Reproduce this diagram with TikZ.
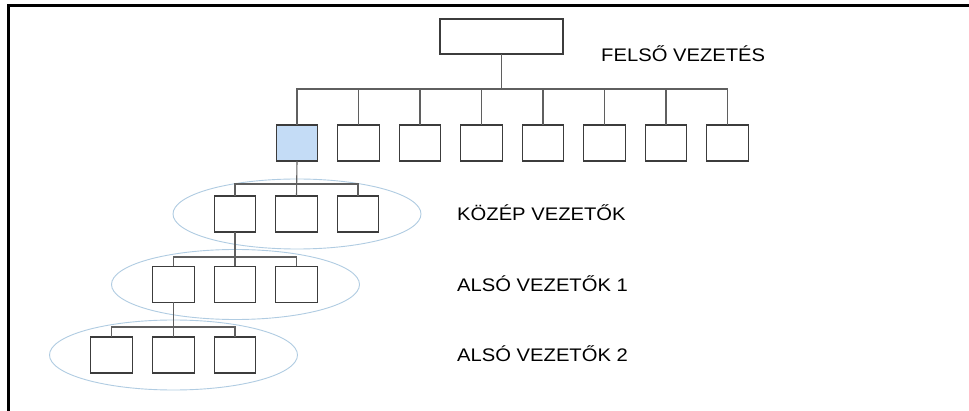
\documentclass[tikz,border=0pt]{standalone}
\usepackage{fontspec}
\setmainfont{Liberation Sans}
\definecolor{boxgray}{RGB}{60,60,60}
\definecolor{linkgray}{RGB}{95,95,95}
\definecolor{bossblue}{RGB}{196,220,246}
\definecolor{ringblue}{RGB}{176,204,226}
\begin{document}
\begin{tikzpicture}[x=1pt,y=-1pt,
  box/.style={draw=boxgray,fill=white,line width=1.1pt,minimum width=41.5pt,minimum height=36pt,inner sep=0pt,outer sep=0pt},
  link/.style={draw=linkgray,line width=1.1pt},
  ring/.style={draw=ringblue,line width=0.9pt},
  lbl/.style={anchor=base west,inner sep=0pt,xscale=1.11,font=\fontsize{18.2}{20}\selectfont}]
\useasboundingbox (0,0) rectangle (969,411);
\fill[white] (0,0) rectangle (969,411);

% page frame (top and left edges)
\draw[line width=3pt,black] (8.5,411) -- (8.5,5.5) -- (969,5.5);

% level groupings
\draw[ring] (297,214) ellipse [x radius=124, y radius=35];
\draw[ring] (235.5,284.5) ellipse [x radius=124, y radius=35];
\draw[ring] (173.5,355) ellipse [x radius=124, y radius=35];

% top management
\node[box,minimum width=123pt,minimum height=35pt] (top) at (501.5,36.5) {};
\coordinate (j0) at (501.5,89);

% first row of units
\foreach \i/\x in {1/297,2/358.5,3/420,4/481.5,5/543,6/604.5,7/666,8/727.5}
  \node[box] (b\i) at (\x,143) {};
\node[box,fill=bossblue] at (b1) {};

% middle managers
\coordinate (j1) at (297,184);
\node[box] (m1) at (235,214) {};
\node[box] (m2) at (296.5,214) {};
\node[box] (m3) at (358,214) {};

% lower managers 1
\coordinate (j2) at (235,257);
\node[box] (r1) at (173.5,284.5) {};
\node[box] (r2) at (235,284.5) {};
\node[box] (r3) at (296.5,284.5) {};

% lower managers 2
\coordinate (j3) at (173.5,327);
\node[box] (s1) at (111.5,355) {};
\node[box] (s2) at (173.5,355) {};
\node[box] (s3) at (235,355) {};

% connectors
\draw[link] (top.south) -- (j0);
\foreach \i in {1,...,8} \draw[link] (j0) -| (b\i.north);
\draw[link] (b1.south) -- (m2.north);
\draw[link] (j1) -| (m1.north);
\draw[link] (j1) -| (m3.north);
\draw[link] (m1.south) -- (r2.north);
\draw[link] (j2) -| (r1.north);
\draw[link] (j2) -| (r3.north);
\draw[link] (r1.south) -- (s2.north);
\draw[link] (j3) -| (s1.north);
\draw[link] (j3) -| (s3.north);

% level labels
\node[lbl] (t0) at (601,61.7) {FELSŐ VEZETÉS};
\node[lbl] (t1) at (457,220.7) {KÖZÉP VEZETŐK};
\node[lbl] (t2) at (457,291.7) {ALSÓ VEZETŐK 1};
\node[lbl] (t3) at (457,362) {ALSÓ VEZETŐK 2};
\end{tikzpicture}
\end{document}
